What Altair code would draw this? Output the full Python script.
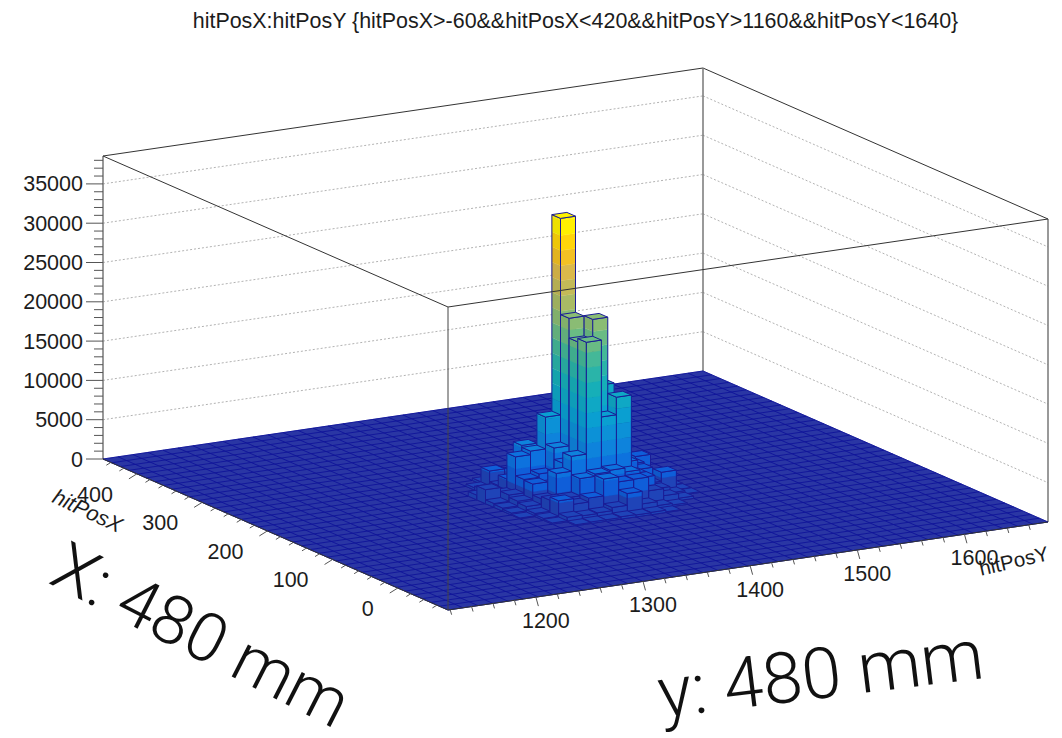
import altair as alt
import pandas as pd

alt.data_transformers.disable_max_rows()

TITLE = "hitPosX:hitPosY {hitPosX>-60&&hitPosX<420&&hitPosY>1160&&hitPosY<1640}"
Z_MAX = 38550
Z_MAJOR = [0, 5000, 10000, 15000, 20000, 25000, 30000, 35000]
X_MAJOR = [0, 100, 200, 300, 400]
Y_MAJOR = [1200, 1300, 1400, 1500, 1600]
X_RANGE = [-77, 452]
Y_RANGE = [1118, 1678]
N_BINS = 40

# Bin contents: rows are hitPosX bins 13..24, columns hitPosY bins 13..26.
ROW0, COL0 = 13, 13
ROW_13 = [0, 0, 0, 130, 200, 200, 300, 250, 300, 100, 0, 0, 0, 0]
ROW_14 = [0, 0, 150, 600, 500, 600, 1000, 2500, 900, 400, 200, 0, 0, 0]
ROW_15 = [0, 0, 250, 2210, 1500, 2000, 4140, 3500, 3560, 1800, 900, 300, 0, 0]
ROW_16 = [0, 100, 400, 1800, 1800, 4000, 4300, 4500, 4000, 3000, 1300, 500, 100, 0]
ROW_17 = [0, 250, 800, 1500, 4450, 6350, 20580, 10800, 13030, 3000, 1500, 2640, 150, 0]
ROW_18 = [0, 400, 1000, 2900, 2500, 5000, 20150, 22730, 8000, 4000, 2800, 900, 200, 0]
ROW_19 = [0, 500, 1300, 3000, 3430, 6450, 22670, 15000, 13600, 6000, 3000, 1500, 150, 0]
ROW_20 = [0, 1780, 1000, 5400, 5850, 9900, 34900, 12000, 8000, 5000, 2000, 3200, 100, 0]
ROW_21 = [0, 600, 700, 2100, 6100, 4000, 7000, 8000, 5000, 3000, 1000, 1000, 0, 0]
ROW_22 = [0, 0, 500, 800, 2300, 2500, 2800, 2000, 1500, 800, 300, 0, 0, 0]
ROW_23 = [0, 0, 300, 2160, 700, 800, 700, 500, 300, 250, 0, 0, 0, 0]
ROW_24 = [0, 0, 0, 300, 200, 250, 200, 100, 0, 0, 0, 0, 0, 0]
ROWS = [ROW_13, ROW_14, ROW_15, ROW_16, ROW_17, ROW_18, ROW_19, ROW_20, ROW_21, ROW_22, ROW_23, ROW_24]

STOPS = [(0.0, "#2a36a4"), (0.06, "#1254cf"), (0.10, "#0d66e0"), (0.20, "#0e85dc"),
         (0.30, "#0a9fd2"), (0.40, "#12aebc"), (0.50, "#35b7a0"), (0.60, "#78bc7c"),
         (0.70, "#b0bb62"), (0.80, "#dcb94a"), (0.88, "#ffc410"), (0.95, "#fff000"), (1.0, "#fff200")]
BAND = 1925
OUTLINE = "#1a1c96"
FLOOR = "#2a36a4"
GRID = "#10149a"


def P(j, i, z=0.0):
    """Axonometric view of (hitPosY bin, hitPosX bin, content)."""
    return (448 + 15.0 * j - 8.625 * i, 610 - 2.2 * j - 3.775 * i - z * 0.00786)


def hex2(c):
    return [int(c[k:k + 2], 16) for k in (1, 3, 5)]


def colour(z, shade=1.0):
    f = min(z / 35000, 1.0)
    for (a, ca), (b, cb) in zip(STOPS, STOPS[1:]):
        if f <= b:
            t = (f - a) / (b - a)
            rgb = [(p + (q - p) * t) * shade for p, q in zip(hex2(ca), hex2(cb))]
            return "#%02x%02x%02x" % tuple(int(round(v)) for v in rgb)
    return STOPS[-1][1]


poly_rows = []
pid = [0]


def add(pts, fill, stroke, sw, close=True):
    pid[0] += 1
    seq = list(pts) + ([pts[0]] if close else [])
    for k, (x, y) in enumerate(seq):
        poly_rows.append(dict(pid=pid[0], o=k, x=round(x, 2), y=round(y, 2), fill=fill, stroke=stroke, sw=sw))


# floor and its bin grid
add([P(0, 0), P(N_BINS, 0), P(N_BINS, N_BINS), P(0, N_BINS)], FLOOR, FLOOR, 0.5)
for k in range(N_BINS + 1):
    add([P(k, 0), P(k, N_BINS)], "transparent", GRID, 0.9, close=False)
    add([P(0, k), P(N_BINS, k)], "transparent", GRID, 0.9, close=False)

# bars, painted from the back corner to the front corner
for r in range(len(ROWS) - 1, -1, -1):
    for c in range(len(ROWS[r]) - 1, -1, -1):
        z = ROWS[r][c]
        if z <= 0:
            continue
        i, j = ROW0 + r, COL0 + c
        levels = [0]
        while levels[-1] + BAND < z:
            levels.append(levels[-1] + BAND)
        levels.append(z)
        for (ja, ia, jb, ib, shade) in ((j, i, j, i + 1, 0.93), (j, i, j + 1, i, 1.0)):
            for lo, hi in zip(levels, levels[1:]):
                col = colour((lo // BAND + 0.5) * BAND, shade)
                add([P(ja, ia, lo), P(jb, ib, lo), P(jb, ib, hi), P(ja, ia, hi)], col, col, 0.3)
            add([P(ja, ia, 0), P(jb, ib, 0), P(jb, ib, z), P(ja, ia, z)], "transparent", OUTLINE, 1.0)
        top = colour((z // BAND + 0.5) * BAND)
        add([P(j, i, z), P(j + 1, i, z), P(j + 1, i + 1, z), P(j, i + 1, z)], top, OUTLINE, 1.0)

SX = alt.Scale(domain=[8, 1054], nice=False, zero=False)
SY = alt.Scale(domain=[738, 8], nice=False, zero=False)
ENC = dict(x=alt.X("x:Q", scale=SX, axis=None), y=alt.Y("y:Q", scale=SY, axis=None))


def lines(segments, **mark):
    rows = []
    for n, seg in enumerate(segments):
        for k, (x, y) in enumerate(seg):
            rows.append(dict(pid=n, o=k, x=round(x, 2), y=round(y, 2)))
    return alt.Chart(pd.DataFrame(rows)).mark_line(**mark).encode(detail="pid:N", order="o:Q", **ENC)


def texts(rows, **mark):
    mark.setdefault("font", "Liberation Sans")
    mark.setdefault("color", "#1c1c1c")
    return alt.Chart(pd.DataFrame(rows)).mark_text(**mark).encode(text="t:N", **ENC)


n = N_BINS
walls_dash = lines(
    [[P(0, n, z), P(n, n, z)] for z in Z_MAJOR[1:]] + [[P(n, n, z), P(n, 0, z)] for z in Z_MAJOR[1:]],
    color="#909090", strokeWidth=0.7, strokeDash=[2, 2])
walls = lines(
    [[P(0, n, Z_MAX), P(n, n, Z_MAX)], [P(n, n, Z_MAX), P(n, 0, Z_MAX)]],
    color="#333333", strokeWidth=1.0)
verticals_back = lines(
    [[P(n, n, 0), P(n, n, Z_MAX)], [P(n, 0, 0), P(n, 0, Z_MAX)], [P(0, n, 0), P(0, n, Z_MAX)]],
    color="#777777", strokeWidth=1.5)

lego = alt.Chart(pd.DataFrame(poly_rows)).mark_line().encode(
    detail="pid:N", order="o:Q",
    fill=alt.Fill("fill:N", scale=None),
    stroke=alt.Stroke("stroke:N", scale=None),
    strokeWidth=alt.StrokeWidth("sw:Q", scale=None),
    **ENC)

frame = lines(
    [[P(0, 0, Z_MAX), P(n, 0, Z_MAX)], [P(0, 0, Z_MAX), P(0, n, Z_MAX)],
     [P(0, 0, 0), P(n, 0, 0)], [P(0, 0, 0), P(0, n, 0)]],
    color="#333333", strokeWidth=1.0)
frame_v = lines([[P(0, 0, 0), P(0, 0, Z_MAX)]], color="#444444", strokeWidth=1.0)


def along_y(v):
    return n * (v - Y_RANGE[0]) / (Y_RANGE[1] - Y_RANGE[0])


def along_x(v):
    return n * (v - X_RANGE[0]) / (X_RANGE[1] - X_RANGE[0])


ticks = []
for v in range(0, Z_MAX, 1000):
    bx, by = P(0, n, v)
    ln = 17 if v % 5000 == 0 else 9
    ticks.append([(bx - ln, by), (bx, by)])
for v in range(-60, 441, 20):
    bx, by = P(0, along_x(v))
    dx, dy = (-8, 5) if v % 100 == 0 else (-4.5, 2.8)
    ticks.append([(bx, by), (bx + dx, by + dy)])
for v in range(1120, 1661, 20):
    bx, by = P(along_y(v), 0)
    dx, dy = (2.5, 9) if v % 100 == 0 else (1.5, 5)
    ticks.append([(bx, by), (bx + dx, by + dy)])
tick_layer = lines(ticks, color="#555555", strokeWidth=1.0)

z_labels = texts([dict(x=P(0, n, v)[0] - 20, y=P(0, n, v)[1] + 1.5, t=str(v)) for v in Z_MAJOR],
                 align="right", baseline="middle", fontSize=21.5)
x_labels = texts([dict(x=P(0, along_x(v))[0] - 24, y=P(0, along_x(v))[1] + 22, t=str(v)) for v in X_MAJOR],
                 align="right", baseline="middle", fontSize=21.5)
y_labels = texts([dict(x=P(along_y(v), 0)[0] + 10, y=P(along_y(v), 0)[1] + 25, t=str(v)) for v in Y_MAJOR],
                 align="center", baseline="middle", fontSize=21.5)

title = texts([dict(x=575.5, y=22, t=TITLE)], align="center", baseline="middle", fontSize=21.45)
x_name = texts([dict(x=87, y=512, t="hitPosX")], align="center", baseline="middle", fontSize=21.5,
               angle=25, fontStyle="italic")
y_name = texts([dict(x=1014, y=562, t="hitPosY")], align="center", baseline="middle", fontSize=20.5, angle=347)
note_x = texts([dict(x=200, y=638, t="X: 480 mm")], align="center", baseline="middle", fontSize=68,
               font="Roboto", fontWeight=300, color="#111111", angle=27)
note_y = texts([dict(x=821, y=677, t="y: 480 mm")], align="center", baseline="middle", fontSize=71,
               font="Roboto", fontWeight=300, color="#111111", angle=353)

chart = alt.layer(
    walls_dash, walls, verticals_back, lego, frame, frame_v, tick_layer,
    z_labels, x_labels, y_labels, title, x_name, y_name, note_x, note_y,
).properties(
    width=1046, height=730, padding=0, autosize=alt.AutoSizeParams(type="none")
).configure_view(stroke=None)

chart.save("out.html", embed_options={"renderer": "svg", "actions": False})
